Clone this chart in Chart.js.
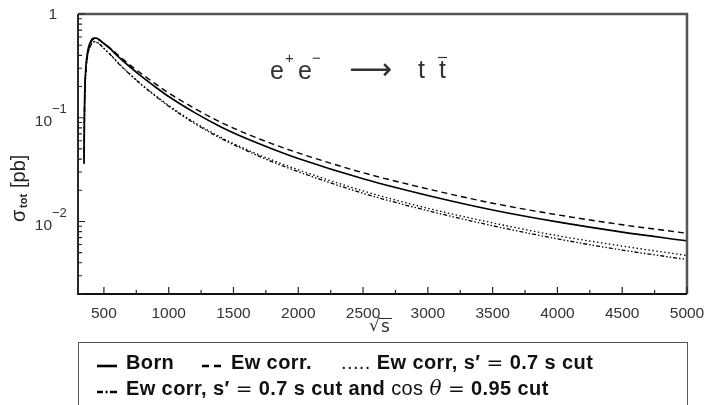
<!DOCTYPE html>
<html>
<head>
<meta charset="utf-8">
<script src="https://cdn.jsdelivr.net/npm/chart.js@4"></script>
<style>
  html, body { margin: 0; padding: 0; background: #fff; }
  #wrap { position: relative; width: 711px; height: 405px; overflow: hidden; }
  #c { position: absolute; left: 0; top: 0; }
  #legend { position: absolute; left: 78px; top: 342px; width: 610px; height: 80px;
            border: 1.5px solid #555; border-bottom: none; box-sizing: border-box; }
  .it { position: absolute; white-space: nowrap; font: bold 20px "Liberation Sans", sans-serif; color: #111;
        line-height: 22px; letter-spacing: 0.4px; }
  .it svg { vertical-align: middle; margin-right: 3px; }
  .eq { font-weight: normal; font-family: "DejaVu Sans", sans-serif; margin: 0 6px; }
  .nb { font-weight: normal; }
</style>
</head>
<body>
<div id="wrap">
  <canvas id="c" width="711" height="405"></canvas>
  <div id="legend">
    <span class="it" style="left:18px;top:8px"><svg width="20" height="8"><line x1="0" y1="6" x2="20" y2="6" stroke="#000" stroke-width="2.6"/></svg> Born</span>
    <span class="it" style="left:123px;top:8px"><svg width="20" height="8"><line x1="0" y1="6" x2="20" y2="6" stroke="#000" stroke-width="2.6" stroke-dasharray="7,5"/></svg> Ew corr.</span>
    <span class="it" style="left:262px;top:8px"><span class="nb">.....</span> Ew corr, s′<span class="eq">=</span>0.7 s cut</span>
    <span class="it" style="left:18px;top:34px"><svg width="20" height="8"><line x1="0" y1="6" x2="20" y2="6" stroke="#000" stroke-width="2.6" stroke-dasharray="6,2.5,2,2.5,7"/></svg> Ew corr, s′<span class="eq">=</span>0.7 s cut and <span class="nb">cos</span> <span class="nb" style="font-family:'DejaVu Serif',serif;font-style:italic">θ</span><span class="eq">=</span>0.95 cut</span>
  </div>
</div>
<script>
'use strict';
// ── Données ─────────────────────────────────────────────────────────────────
const sqrtS    = [347, 350, 355, 360, 370, 380, 400, 420, 440, 460, 500, 550, 600, 700, 800, 900,
                  1000, 1200, 1400, 1600, 1800, 2000, 2500, 3000, 3500, 4000, 4500, 5000];
const born     = [0.040, 0.12, 0.22, 0.30, 0.40, 0.47, 0.55, 0.585, 0.585, 0.57, 0.52, 0.46, 0.40, 0.31, 0.245, 0.197,
                  0.160, 0.112, 0.082, 0.063, 0.050, 0.0405, 0.0258, 0.0178, 0.0129, 0.0099, 0.0079, 0.0065];
const ewCorr   = [0.037, 0.113, 0.209, 0.285, 0.384, 0.451, 0.534, 0.573, 0.576, 0.564, 0.52, 0.467, 0.412, 0.324, 0.260, 0.211,
                  0.173, 0.123, 0.0906, 0.0702, 0.056, 0.0458, 0.0295, 0.0206, 0.0150, 0.0116, 0.0093, 0.0077];
const ewCut    = [0.036, 0.108, 0.198, 0.273, 0.364, 0.432, 0.506, 0.541, 0.538, 0.522, 0.468, 0.407, 0.348, 0.264, 0.205, 0.163,
                  0.131, 0.090, 0.065, 0.0495, 0.039, 0.0315, 0.0197, 0.0134, 0.0097, 0.0073, 0.0058, 0.0047];
const ewCutCos = [0.036, 0.108, 0.198, 0.273, 0.364, 0.430, 0.503, 0.538, 0.535, 0.519, 0.465, 0.405, 0.346, 0.262, 0.203, 0.161,
                  0.129, 0.088, 0.0635, 0.0482, 0.0376, 0.0302, 0.0187, 0.0127, 0.0091, 0.0068, 0.0053, 0.0043];

const xTicks      = [500, 1000, 1500, 2000, 2500, 3000, 3500, 4000, 4500, 5000];
const xMinorTicks = [750, 1250, 1750, 2250, 2750, 3250, 3750, 4250, 4750];
const yTicks      = [1, 0.1, 0.01];
const yTickLabels = [['1', ''], ['10', '−1'], ['10', '−2']];

const pts = arr => arr.map((v, i) => ({ x: sqrtS[i], y: v }));

// ── Axes, cadre, graduations vers l'intérieur ───────────────────────────────
const axesPlugin = {
  id: 'axesPlugin',
  afterDraw(chart) {
    const { ctx, chartArea: a, scales: { x, y } } = chart;
    ctx.save();
    // cadre haut / droit
    ctx.strokeStyle = '#555'; ctx.lineWidth = 2.5;
    ctx.beginPath(); ctx.moveTo(a.left, a.top); ctx.lineTo(a.right, a.top); ctx.lineTo(a.right, a.bottom); ctx.stroke();
    // axes gauche / bas
    ctx.strokeStyle = '#111'; ctx.lineWidth = 1.8;
    ctx.beginPath(); ctx.moveTo(a.left, a.top); ctx.lineTo(a.left, a.bottom); ctx.lineTo(a.right, a.bottom); ctx.stroke();

    ctx.lineWidth = 1.2; ctx.strokeStyle = '#222';
    ctx.beginPath();
    xTicks.forEach(v => { const px = x.getPixelForValue(v); ctx.moveTo(px, a.bottom); ctx.lineTo(px, a.bottom - 7); });
    xMinorTicks.forEach(v => { const px = x.getPixelForValue(v); ctx.moveTo(px, a.bottom); ctx.lineTo(px, a.bottom - 4); });
    for (let e = -3; e <= 0; e++) {
      for (let k = 1; k <= 9; k++) {
        const v = k * Math.pow(10, e);
        if (v < y.min * 0.999 || v > y.max * 1.001) continue;
        const py = y.getPixelForValue(v);
        ctx.moveTo(a.left, py); ctx.lineTo(a.left + (k === 1 ? 7 : 4), py);
      }
    }
    ctx.stroke();

    // étiquettes
    ctx.fillStyle = '#333';
    ctx.font = '15.5px "Liberation Sans", sans-serif';
    ctx.textAlign = 'center'; ctx.textBaseline = 'middle';
    xTicks.forEach(v => ctx.fillText(String(v), x.getPixelForValue(v), 314));
    yTicks.forEach((v, i) => {
      const py = y.getPixelForValue(v);
      const [base, exp] = yTickLabels[i];
      ctx.font = '15.5px "Liberation Sans", sans-serif';
      ctx.textAlign = 'right';
      if (!exp) { ctx.fillText(base, 57, py + 1); return; }
      ctx.fillText(base, 52, py + 4);
      ctx.textAlign = 'left';
      ctx.font = '13px "Liberation Sans", sans-serif';
      ctx.fillText(exp, 52, py - 8);
    });

    // titre x : √s avec barre
    ctx.font = '17px "DejaVu Sans", sans-serif';
    ctx.textAlign = 'left';
    ctx.fillText('√', 369, 327);
    ctx.fillText('s', 381, 328);
    ctx.lineWidth = 1; ctx.strokeStyle = '#333';
    ctx.beginPath(); ctx.moveTo(379, 318.5); ctx.lineTo(392, 318.5); ctx.stroke();

    // titre y
    ctx.save();
    ctx.translate(19, 160); ctx.rotate(-Math.PI / 2);
    ctx.textAlign = 'left'; ctx.fillStyle = '#222';
    ctx.font = '20px "Liberation Sans", sans-serif';
    ctx.fillText('σ', -62, 0);
    ctx.font = 'bold 11px "Liberation Sans", sans-serif';
    ctx.fillText('tot', -48, 5);
    ctx.font = '20px "Liberation Sans", sans-serif';
    ctx.fillText('[pb]', -28, 0);
    ctx.restore();

    // processus e+e- -> t tbar
    ctx.fillStyle = '#333';
    ctx.font = '25px "Liberation Sans", sans-serif';
    ctx.textAlign = 'left';
    ctx.fillText('e', 270, 72);
    ctx.fillText('e', 298, 72);
    ctx.fillText('t', 418, 71);
    ctx.fillText('t', 439, 71);
    ctx.font = '15px "Liberation Sans", sans-serif';
    ctx.fillText('+', 285, 59);
    ctx.fillText('−', 312, 59);
    ctx.strokeStyle = '#333'; ctx.lineWidth = 1.2;
    ctx.beginPath(); ctx.moveTo(438, 57.5); ctx.lineTo(447, 57.5); ctx.stroke();
    ctx.font = '30px "DejaVu Sans", sans-serif';
    ctx.fillText('⟶', 349, 71);
    ctx.restore();
  }
};

new Chart(document.getElementById('c'), {
  type: 'line',
  data: {
    datasets: [
      { label: 'Born', data: pts(born), borderColor: '#000', borderWidth: 1.7 },
      { label: 'Ew corr.', data: pts(ewCorr), borderColor: '#000', borderWidth: 1.4, borderDash: [6, 4] },
      { label: 'Ew corr, s\u2032 = 0.7 s cut', data: pts(ewCut), borderColor: '#000', borderWidth: 1.3, borderDash: [1.5, 2.5] },
      { label: 'Ew corr, s\u2032 = 0.7 s cut and cos\u03b8 = 0.95 cut', data: pts(ewCutCos), borderColor: '#000', borderWidth: 1.3, borderDash: [4, 2, 1.5, 2, 1.5, 2] },
    ],
  },
  options: {
    responsive: false, animation: false,
    layout: { padding: { left: 0, top: 14, right: 24, bottom: 0 } },
    plugins: { legend: { display: false }, tooltip: { enabled: false } },
    elements: { point: { radius: 0 }, line: { cubicInterpolationMode: 'monotone', fill: false } },
    scales: {
      x: { type: 'linear', min: 300, max: 5000, grid: { display: false }, border: { display: false },
           ticks: { display: false }, afterFit(s) { s.height = 111; } },
      y: { type: 'logarithmic', min: 0.002, max: 1, grid: { display: false }, border: { display: false },
           ticks: { display: false }, afterFit(s) { s.width = 78; } },
    },
  },
  plugins: [axesPlugin],
});
</script>
</body>
</html>
